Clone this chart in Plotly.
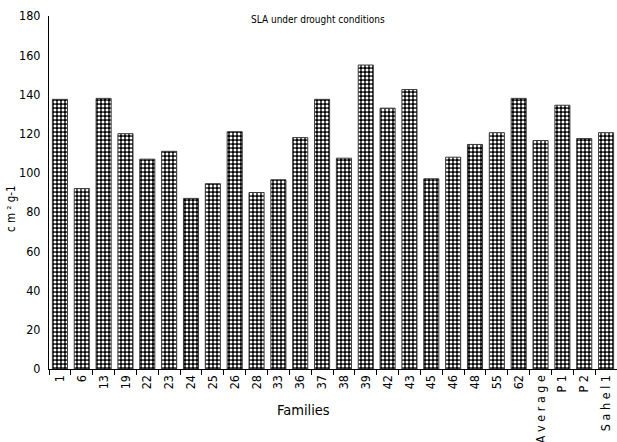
import plotly.graph_objects as go

# Specific leaf area per family under drought
families = ["1", "6", "13", "19", "22", "23", "24", "25", "26", "28", "33", "36", "37",
            "38", "39", "42", "43", "45", "46", "48", "55", "62",
            "A v e r a g e", "P 1", "P 2", "S a h e l 1"]
sla_values = [137.5, 92, 138, 120, 107, 111, 87, 94.5, 121, 90, 96.5, 118, 137.5,
              107.5, 155, 133, 142.5, 97, 108, 114.5, 120.5, 138,
              116.5, 134.5, 117.5, 120.5]

FONT = "DejaVu Sans Condensed, Liberation Sans Narrow, sans-serif"

# plot area in pixels
L, R, T, B = 49, 0, 16, 73
W, H = 617, 442
pw, ph = W - L - R, H - T - B

fig = go.Figure(
    go.Bar(
        x=families,
        y=sla_values,
        marker=dict(
            color="black",
            line=dict(color="#3a3a3a", width=1),
            pattern=dict(shape=".", size=4, solidity=0.46,
                         fgcolor="white", bgcolor="black", fillmode="replace"),
        ),
    )
)

fig.update_layout(
    width=W,
    height=H,
    margin=dict(l=L, r=R, t=T, b=B, autoexpand=False),
    plot_bgcolor="white",
    paper_bgcolor="white",
    bargap=0.31,
    showlegend=False,
    font=dict(family=FONT, size=12.5, color="black"),
    annotations=[
        dict(text="SLA under drought conditions",
             x=(318 - L) / pw, y=1 - (19 - T) / ph, xref="paper", yref="paper",
             xanchor="center", yanchor="middle", showarrow=False,
             font=dict(size=10)),
        dict(text="Families",
             x=(303 - L) / pw, y=-(410 - (T + ph)) / ph, xref="paper", yref="paper",
             xanchor="center", yanchor="middle", showarrow=False,
             font=dict(size=14.5)),
        dict(text="c m ² g-1",
             x=-(L - 11) / pw, y=1 - (209 - T) / ph, xref="paper", yref="paper",
             xanchor="center", yanchor="middle", showarrow=False, textangle=-90,
             font=dict(size=11.5)),
    ],
)

fig.update_xaxes(
    type="category",
    automargin=False,
    showline=True, linecolor="black", linewidth=1,
    ticks="outside", ticklen=5, tickcolor="black", tickson="boundaries",
    tickangle=-90,
    tickfont=dict(size=12.5),
    showgrid=False,
)
fig.update_yaxes(
    range=[0, 180],
    dtick=20,
    automargin=False,
    showline=True, linecolor="black", linewidth=1,
    ticks="", showgrid=False, zeroline=False,
    ticklabelstandoff=5,
    tickfont=dict(size=12.5),
)

fig.write_html("out.html")
